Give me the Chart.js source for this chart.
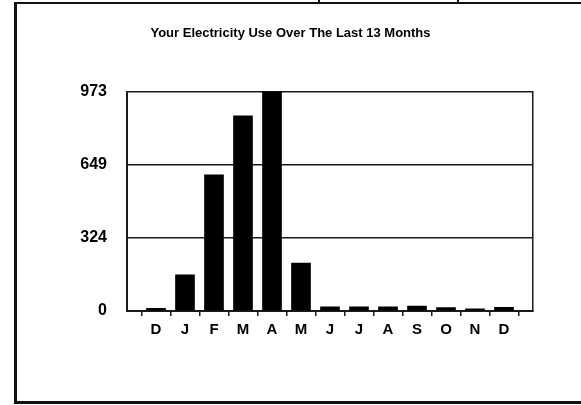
<!DOCTYPE html>
<html lang="en">

<head>
  <meta charset="UTF-8">
  <title>Electricity Use</title>
  <script src="https://cdn.jsdelivr.net/npm/chart.js"></script>
  <style>
    body { margin: 0; background: #fff; }
    .frame {
      position: absolute; left: 14px; top: 2px; width: 567px; height: 397px;
      border-left: 3px solid #111; border-top: 2px solid #111; border-bottom: 3px solid #111;
    }
    .sep { position: absolute; top: 0; width: 2px; height: 4px; background: #111; }
    #usageChart { position: absolute; left: 0; top: 0; }
  </style>
</head>

<body>
  <div class="frame"></div>
  <div class="sep" style="left: 318px;"></div>
  <div class="sep" style="left: 457px;"></div>
  <canvas id="usageChart" width="581" height="405"></canvas>

  <script>
    // last 13 months, Dec -> Dec
    const months = ['D', 'J', 'F', 'M', 'A', 'M', 'J', 'J', 'A', 'S', 'O', 'N', 'D'];
    const usage = [12, 160, 604, 866, 973, 212, 18, 18, 18, 22, 15, 10, 16];
    const yTicks = [0, 324, 649, 973];

    const lineColor = '#1a1a1a';
    const font = 'Liberation Sans, Arial, sans-serif';

    // blank slot at each end so the axis runs past the first and last bar
    const labels = [''].concat(months, ['']);
    const values = [null].concat(usage, [null]);

    new Chart(document.getElementById('usageChart'), {
      type: 'bar',
      data: {
        labels: labels,
        datasets: [{
          data: values,
          backgroundColor: '#000',
          barThickness: 19
        }]
      },
      options: {
        responsive: false,
        animation: false,
        layout: { padding: 0 },
        plugins: {
          legend: { display: false },
          tooltip: { enabled: false },
          title: {
            display: true,
            text: 'Your Electricity Use Over The Last 13 Months',
            color: '#000',
            font: { family: font, size: 13, weight: 'bold' },
            padding: { top: 26, bottom: 50 }
          }
        },
        scales: {
          x: {
            offset: false,
            grid: { drawOnChartArea: false, drawTicks: true, tickLength: 5, color: lineColor, lineWidth: 1.5 },
            border: { display: true, color: lineColor, width: 2 },
            ticks: { color: '#000', font: { family: font, size: 15, weight: 'bold' }, padding: 5, autoSkip: false, maxRotation: 0 },
            afterFit: s => { s.height = 94; }
          },
          y: {
            min: 0,
            max: 973,
            afterBuildTicks: s => { s.ticks = yTicks.map(v => ({ value: v })); },
            grid: { drawTicks: false, color: lineColor, lineWidth: 1.5 },
            border: { display: true, color: lineColor, width: 2 },
            ticks: { color: '#000', font: { family: font, size: 16, weight: 'bold' }, padding: 20 },
            afterFit: s => { s.width = 127; }
          },
          y2: {
            position: 'right',
            grid: { display: false },
            ticks: { display: false },
            border: { display: true, color: lineColor, width: 1.5 },
            afterFit: s => { s.width = 48; }
          }
        }
      }
    });
  </script>

</body>

</html>
